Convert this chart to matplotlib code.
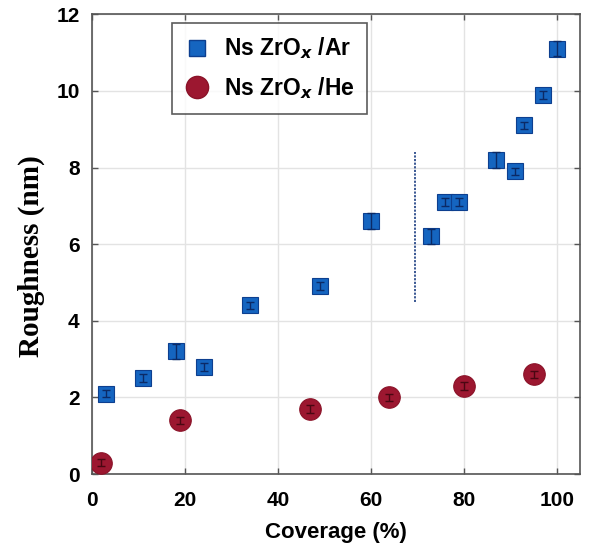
import matplotlib
matplotlib.use("Agg")
import matplotlib.pyplot as plt
from matplotlib.lines import Line2D

# Ns ZrOx deposited in Ar
ar_coverage = [3, 11, 18, 24, 34, 49, 60, 73, 76, 79, 87, 91, 93, 97, 100]
ar_roughness = [2.1, 2.5, 3.2, 2.8, 4.4, 4.9, 6.6, 6.2, 7.1, 7.1, 8.2, 7.9, 9.1, 9.9, 11.1]
ar_error = [0.1, 0.1, 0.2, 0.1, 0.1, 0.1, 0.2, 0.2, 0.1, 0.1, 0.2, 0.1, 0.1, 0.1, 0.2]

# Ns ZrOx deposited in He
he_coverage = [2, 19, 47, 64, 80, 95]
he_roughness = [0.3, 1.4, 1.7, 2.0, 2.3, 2.6]
he_error = [0.1, 0.1, 0.1, 0.1, 0.1, 0.1]

# percolation threshold marker
threshold_x = 69.5
threshold_y = [4.5, 8.4]

x_ticks = [0, 20, 40, 60, 80, 100]
y_ticks = [0, 2, 4, 6, 8, 10, 12]

blue = "#1565c0"
blue_edge = "#0d3f8f"
red = "#9c1730"
red_edge = "#8a1228"

fig = plt.figure(figsize=(5.9, 5.48), dpi=100)
ax = fig.add_axes([0.156, 0.135, 0.827, 0.839])

ax.grid(True, color="#e3e3e3", linewidth=1.0)
ax.set_axisbelow(True)

ax.plot([threshold_x, threshold_x], threshold_y, linestyle=(0, (1.2, 0.8)),
        color="#2a4a8a", linewidth=1.3, zorder=2)

# markers first, error bars drawn on top of them
ax.plot(ar_coverage, ar_roughness, "s", markersize=11.5,
        markerfacecolor=blue, markeredgecolor=blue_edge, markeredgewidth=0.8, zorder=3)
ax.plot(he_coverage, he_roughness, "o", markersize=15.5,
        markerfacecolor=red, markeredgecolor=red_edge, markeredgewidth=0.8, zorder=3)
ax.errorbar(ar_coverage, ar_roughness, yerr=ar_error, fmt="none",
            ecolor="#0b2a66", elinewidth=1.0, capsize=2.8, capthick=1.0, zorder=4)
ax.errorbar(he_coverage, he_roughness, yerr=he_error, fmt="none",
            ecolor="#4a0712", elinewidth=1.0, capsize=2.8, capthick=1.0, zorder=4)

ax.set_xlim(0, 105)
ax.set_ylim(0, 12)
ax.set_xticks(x_ticks)
ax.set_yticks(y_ticks)

tick_font = {"family": "Liberation Sans", "weight": "bold", "size": 15}
ax.set_xticklabels([str(t) for t in x_ticks], fontdict=tick_font)
ax.set_yticklabels([str(t) for t in y_ticks], fontdict=tick_font)
ax.tick_params(direction="in", length=4, width=1, color="#555555",
               top=True, right=True)
ax.tick_params(axis="x", pad=12)
ax.tick_params(axis="y", pad=9)

for s in ax.spines.values():
    s.set_color("#555555")
    s.set_linewidth(1.2)

ax.set_xlabel("Coverage (%)", family="Liberation Sans", weight="bold", size=16, labelpad=9)
ax.set_ylabel("Roughness (nm)", family="Liberation Serif", weight="bold", size=21, labelpad=8)
ax.yaxis.label.set_y(0.474)

handles = [
    Line2D([], [], marker="s", linestyle="none", markersize=11.5,
           markerfacecolor=blue, markeredgecolor=blue_edge),
    Line2D([], [], marker="o", linestyle="none", markersize=16,
           markerfacecolor=red, markeredgecolor=red_edge),
]
labels = [r"Ns ZrO$_{\mathbfit{x}}$ /Ar", r"Ns ZrO$_{\mathbfit{x}}$ /He"]
leg = ax.legend(handles, labels, loc="upper left", bbox_to_anchor=(0.164, 0.981),
                borderaxespad=0.0,
                prop={"family": "Liberation Sans", "weight": "bold", "size": 16.5},
                frameon=True, fancybox=False, edgecolor="#333333",
                handletextpad=0.6, borderpad=0.55, labelspacing=0.6, handlelength=1.1)
leg.get_frame().set_linewidth(1.2)

fig.savefig("out.png", dpi=100)
